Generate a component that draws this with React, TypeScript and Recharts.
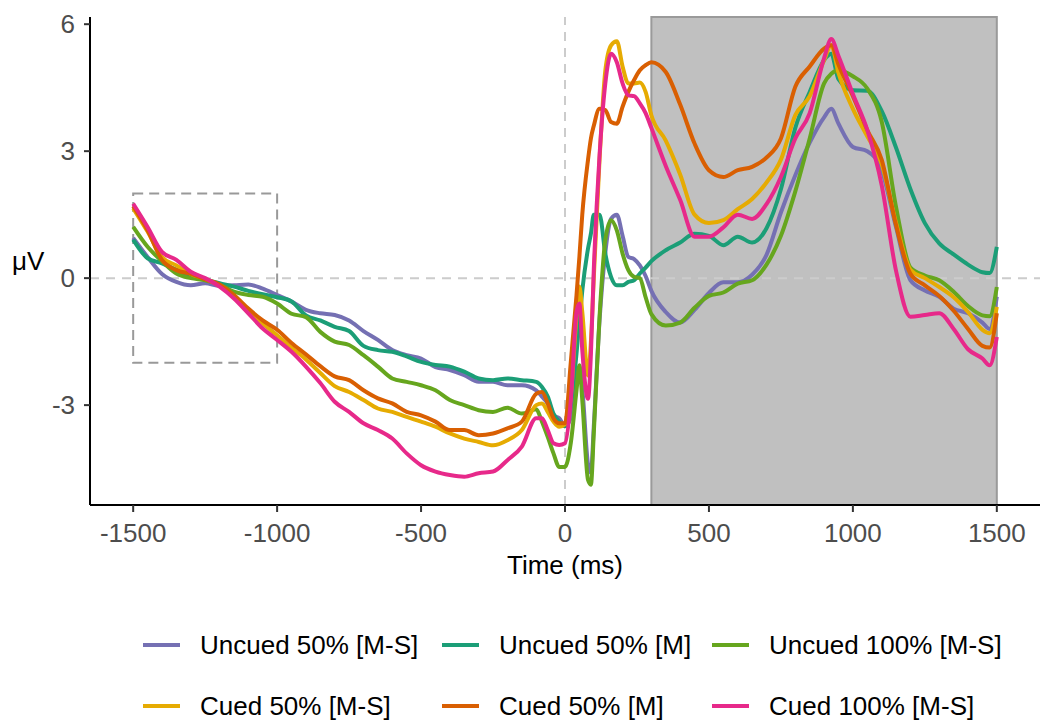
import React from 'react';
import {
  LineChart,
  Line,
  XAxis,
  YAxis,
  ReferenceArea,
  ReferenceLine,
  Label,
} from 'recharts';

const FONT = '"Liberation Sans", Arial, sans-serif';

// time in ms
const times = [
  -1500, -1450, -1400, -1350, -1300, -1250, -1200, -1150, -1100, -1050, -1000, -950, -900, -850, -800,
  -750, -700, -650, -600, -550, -500, -450, -400, -350, -300, -250, -200, -150, -100,
  -80, -60, -40, -20, 0, 20, 40, 50, 60, 80, 90, 100, 120, 140, 160, 180, 200, 220, 240, 260, 280, 300,
  350, 400, 450, 500, 550, 600, 650, 700, 750, 800, 850, 900, 925,
  950, 1000, 1050, 1100, 1150, 1200, 1250, 1300, 1350, 1400, 1450, 1475, 1500,
];

// amplitudes in µV
const uncued50MS = [
  0.95, 0.5, 0.1, -0.09, -0.17, -0.12, -0.18, -0.17, -0.15, -0.25, -0.4, -0.55, -0.75, -0.83, -0.87,
  -1.0, -1.25, -1.46, -1.7, -1.82, -1.9, -2.1, -2.17, -2.29, -2.45, -2.45, -2.53, -2.53, -2.65,
  -2.8, -2.96, -3.24, -3.31, -3.5, -3.3, -2.3, -2.1, -2.6, -4.4, -4.6, -3.5, -1.0, 0.6, 1.4, 1.5, 1.0, 0.5, 0.45, 0.3, 0.05, -0.3,
  -0.8, -1.05, -0.75, -0.35, -0.1, -0.1, 0.08, 0.55, 1.55, 2.43, 3.2, 3.8, 4.0,
  3.65, 3.1, 3.0, 2.55, 1.2, -0.05, -0.29, -0.44, -0.72, -0.83, -1.05, -1.2, -0.44,
];

const uncued50M = [
  0.91, 0.47, 0.35, 0.2, 0.05, -0.03, -0.12, -0.2, -0.3, -0.38, -0.45, -0.55, -0.88, -1.0, -1.15,
  -1.25, -1.6, -1.7, -1.74, -1.85, -1.98, -2.05, -2.09, -2.21, -2.37, -2.41, -2.37, -2.41, -2.45,
  -2.57, -2.8, -3.2, -3.39, -3.5, -3.0, -1.78, -1.0, -0.3, 0.7, 1.05, 1.5, 1.5, 0.58, 0.03, -0.17, -0.17, -0.09, -0.05, 0.11, 0.25, 0.4,
  0.66, 0.84, 1.05, 1.0, 0.78, 0.98, 0.84, 1.18, 2.1, 3.55, 4.4, 5.15, 5.3,
  4.7, 4.44, 4.43, 3.95, 3.08, 2.1, 1.3, 0.82, 0.56, 0.32, 0.14, 0.12, 0.74,
];

const uncued100MS = [
  1.21, 0.74, 0.4, 0.11, 0.0, -0.05, -0.15, -0.32, -0.4, -0.44, -0.6, -0.84, -0.92, -1.27, -1.5,
  -1.58, -1.82, -2.09, -2.37, -2.45, -2.53, -2.65, -2.88, -3.0, -3.12, -3.16, -3.06, -3.2, -3.1,
  -3.39, -3.75, -4.14, -4.46, -4.46, -3.9, -2.65, -2.06, -2.88, -4.77, -4.88, -3.67, -0.91, 0.9, 1.37, 1.13, 0.58, 0.19, 0.03, 0.0, -0.45, -0.85,
  -1.12, -1.05, -0.7, -0.42, -0.34, -0.13, -0.05, 0.32, 1.0, 2.05, 3.3, 4.6, 4.83,
  4.91, 4.77, 4.48, 3.7, 1.68, 0.25, 0.06, -0.05, -0.32, -0.66, -0.88, -0.9, -0.21,
];

const cued50MS = [
  1.65, 1.1, 0.5, 0.3, 0.1, -0.02, -0.17, -0.42, -0.75, -1.07, -1.35, -1.64, -1.92, -2.24, -2.55,
  -2.69, -2.88, -3.08, -3.16, -3.28, -3.39, -3.51, -3.67, -3.79, -3.87, -3.95, -3.83, -3.59, -3.0,
  -2.96, -3.16, -3.39, -3.51, -3.45, -2.8, -0.9, -0.2, -0.8, -2.3, -1.5, 0.0, 2.8, 4.9, 5.5, 5.6, 5.0, 4.6, 4.6, 4.62, 4.4, 3.85,
  3.25, 2.45, 1.5, 1.3, 1.37, 1.63, 1.87, 2.26, 2.8, 3.85, 4.3, 5.15, 5.5,
  4.85, 4.0, 3.35, 2.7, 1.3, 0.2, 0.0, -0.21, -0.45, -0.8, -1.22, -1.3, -0.68,
];

const cued50M = [
  1.7, 1.13, 0.43, 0.19, 0.1, -0.03, -0.15, -0.4, -0.72, -1.0, -1.22, -1.53, -1.8, -2.08, -2.32,
  -2.41, -2.65, -2.84, -2.96, -3.16, -3.24, -3.39, -3.59, -3.59, -3.71, -3.67, -3.55, -3.39, -2.73,
  -2.69, -2.96, -3.31, -3.43, -3.43, -2.0, -0.4, 0.5, 1.5, 2.8, 3.3, 3.6, 4.0, 3.97, 3.69, 3.65, 4.05, 4.4, 4.68, 4.91, 5.03, 5.1,
  4.87, 4.1, 3.18, 2.55, 2.39, 2.55, 2.63, 2.85, 3.3, 4.52, 5.0, 5.42, 5.5,
  5.05, 4.3, 3.5, 2.8, 1.25, 0.1, -0.17, -0.42, -0.77, -1.2, -1.6, -1.64, -0.83,
];

const cued100MS = [
  1.76, 1.21, 0.62, 0.43, 0.15, 0.0, -0.2, -0.48, -0.83, -1.19, -1.46, -1.74, -2.09, -2.48, -2.92,
  -3.16, -3.43, -3.59, -3.79, -4.14, -4.42, -4.57, -4.65, -4.69, -4.61, -4.57, -4.3, -3.98, -3.31,
  -3.31, -3.59, -3.9, -3.94, -3.9, -2.9, -0.8, -0.6, -1.7, -2.85, -1.8, 0.2, 2.9, 4.6, 5.3, 5.1, 4.6, 4.32, 4.3, 4.13, 3.9, 3.55,
  2.65, 1.85, 0.98, 0.98, 1.2, 1.5, 1.4, 1.75, 2.39, 3.3, 3.9, 5.2, 5.65,
  5.25, 4.35, 3.5, 2.2, 0.17, -0.91, -0.87, -0.83, -1.2, -1.68, -1.9, -2.06, -1.39,
];

const xTicks = [-1500, -1000, -500, 0, 500, 1000, 1500];
const yTicks = [-3, 0, 3, 6];

const series = [
  { key: 'uncued50MS', name: 'Uncued 50% [M-S]', color: '#7570B3', values: uncued50MS },
  { key: 'uncued50M', name: 'Uncued 50% [M]', color: '#1B9E77', values: uncued50M },
  { key: 'uncued100MS', name: 'Uncued 100% [M-S]', color: '#66A61E', values: uncued100MS },
  { key: 'cued50MS', name: 'Cued 50% [M-S]', color: '#E6AB02', values: cued50MS },
  { key: 'cued50M', name: 'Cued 50% [M]', color: '#D95F02', values: cued50M },
  { key: 'cued100MS', name: 'Cued 100% [M-S]', color: '#E7298A', values: cued100MS },
];

const data = times.map((t, i) => {
  const row: Record<string, number> = { time: t };
  series.forEach((s) => {
    row[s.key] = s.values[i];
  });
  return row;
});

// legend laid out as 3 columns x 2 rows under the plot
const legendCols = [143, 442, 712];
const legendRows = [645, 706];

function ErpLegend() {
  return (
    <>
      {series.map((s, i) => (
        <div
          key={s.key}
          style={{
            position: 'absolute',
            left: legendCols[i % 3],
            top: legendRows[Math.floor(i / 3)] - 18,
            height: 36,
            display: 'flex',
            alignItems: 'center',
            fontFamily: FONT,
            fontSize: 26,
            color: '#000',
            whiteSpace: 'nowrap',
          }}
        >
          <span style={{ display: 'inline-block', width: 37, height: 4, background: s.color, marginRight: 20 }} />
          <span>{s.name}</span>
        </div>
      ))}
    </>
  );
}

export default function App() {
  const tickStyle = { fill: '#4D4D4D', fontSize: 26, fontFamily: FONT };
  return (
    <div style={{ position: 'absolute', left: 0, top: 0, width: 1040, height: 726, background: '#fff' }}>
      <LineChart width={1040} height={600} data={data} margin={{ top: 17, right: 0, bottom: 0, left: 0 }}>
        <ReferenceArea x1={300} x2={1500} fill="#C0C0C0" fillOpacity={1} stroke="#9A9A9A" strokeWidth={2} />
        <ReferenceLine y={0} stroke="#CCCCCC" strokeWidth={2} strokeDasharray="9 7" />
        <ReferenceLine x={0} stroke="#CCCCCC" strokeWidth={2} strokeDasharray="9 7" />
        <ReferenceArea
          x1={-1500}
          x2={-1000}
          y1={-2}
          y2={2}
          fill="none"
          fillOpacity={0}
          stroke="#999999"
          strokeWidth={2}
          strokeDasharray="10 6"
        />
        <XAxis
          dataKey="time"
          type="number"
          domain={[-1650, 1650]}
          ticks={xTicks}
          allowDataOverflow
          height={95}
          tick={tickStyle}
          tickSize={7}
          tickMargin={12}
          axisLine={{ stroke: '#000', strokeWidth: 2 }}
          tickLine={{ stroke: '#333', strokeWidth: 2 }}
        >
          <Label value="Time (ms)" position="insideTop" offset={51} fill="#000" fontSize={26} fontFamily={FONT} />
        </XAxis>
        <YAxis
          type="number"
          domain={[-5.36, 6.17]}
          ticks={yTicks}
          allowDataOverflow
          width={90}
          tick={tickStyle}
          tickSize={6}
          tickMargin={9}
          axisLine={{ stroke: '#000', strokeWidth: 2 }}
          tickLine={{ stroke: '#333', strokeWidth: 2 }}
        >
          <Label value="μV" position="insideLeft" offset={12} angle={0} fill="#000" fontSize={26} fontFamily={FONT} />
        </YAxis>
        {series.map((s) => (
          <Line
            key={s.key}
            type="monotone"
            dataKey={s.key}
            name={s.name}
            stroke={s.color}
            strokeWidth={4}
            dot={false}
            activeDot={false}
            isAnimationActive={false}
          />
        ))}
      </LineChart>
      <ErpLegend />
    </div>
  );
}
